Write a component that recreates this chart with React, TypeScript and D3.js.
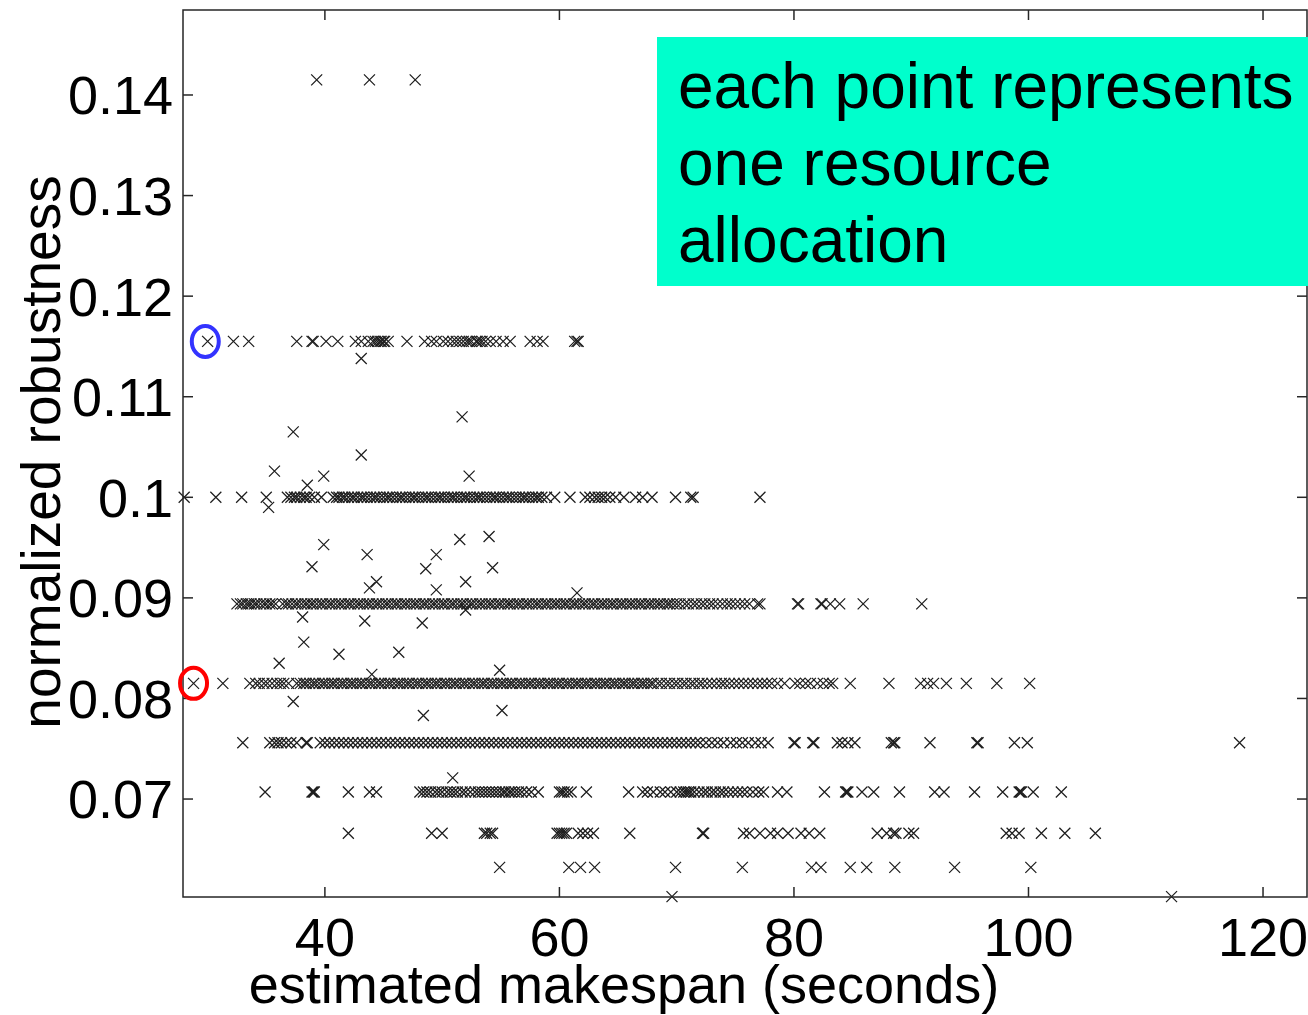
import React, { useEffect, useRef } from "react";
import * as d3 from "d3";

// axis ticks
const xTicks = [40, 60, 80, 100, 120];
const yTicks = [0.07, 0.08, 0.09, 0.1, 0.11, 0.12, 0.13, 0.14];
const yTickLabels = ["0.07", "0.08", "0.09", "0.1", "0.11", "0.12", "0.13", "0.14"];

const xTitle = "estimated makespan (seconds)";
const yTitle = "normalized robustness";
const noteLines = ["each point represents", "one resource", "allocation"];

// robustness levels (most allocations fall on one of these)
const levels = [0.1415, 0.1155, 0.1, 0.0894, 0.0815, 0.0756, 0.0707, 0.0666, 0.0632, 0.0603];

// makespans on each level
const row1415 = [39.3, 43.8, 47.7];
const row1155 = [30.0, 32.2, 33.5, 37.6, 38.9, 39.0, 40.1, 41.1, 42.6, 43.1, 43.7, 44.1, 44.3, 44.5, 44.7, 44.8,
  45.0, 45.1, 45.4, 47.0, 48.5, 49.1, 49.5, 50.1, 50.5, 50.9, 51.2, 51.5, 51.8, 52.1, 52.3, 52.5, 52.9, 53.0,
  53.2, 53.4, 53.7, 54.1, 54.6, 55.2, 55.8, 57.5, 58.1, 58.6, 61.3, 61.5, 61.6];
const row100 = [28.0, 30.7, 32.9, 35.0, 36.8, 37.1, 37.4, 37.6, 37.9, 38.2, 38.4, 38.7, 39.1, 39.7,
  40.7, 41.0, 41.2, 41.5, 41.7, 42.0, 42.3, 42.5, 42.8, 43.1, 43.3, 43.6, 43.9, 44.2, 44.4, 44.7, 45.0, 45.3,
  45.5, 45.8, 46.1, 46.4, 46.6, 46.9, 47.2, 47.5, 47.7, 48.0, 48.3, 48.6, 48.8, 49.1, 49.4, 49.7, 49.9, 50.2,
  50.5, 50.8, 51.0, 51.3, 51.6, 51.9, 52.1, 52.4, 52.7, 53.0, 53.2, 53.5, 53.8, 54.1, 54.4, 54.6, 54.9, 55.2,
  55.5, 55.7, 56.0, 56.3, 56.6, 56.9, 57.1, 57.4, 57.7, 58.0, 58.2, 58.5, 58.9, 59.6, 60.9, 62.2, 62.6, 63.0,
  63.3, 63.6, 63.9, 64.3, 64.8, 65.5, 66.5, 67.1, 67.9, 69.9, 71.2, 71.4, 77.1];
const row0894 = [32.5, 32.8, 33.0, 33.3, 33.5, 33.7, 34.0, 34.2, 34.5, 34.8, 35.0, 35.3, 35.5, 35.8,
  36.4, 36.7, 36.9, 37.2, 37.5, 37.7, 38.0, 38.3, 38.5, 38.8, 39.0, 39.3, 39.6, 39.8, 40.1, 40.4, 40.6, 40.9,
  41.2, 41.4, 41.7, 42.0, 42.2, 42.5, 42.8, 43.0, 43.3, 43.6, 43.8, 44.1, 44.4, 44.6, 44.9, 45.2, 45.4, 45.7,
  46.0, 46.2, 46.5, 46.8, 47.0, 47.3, 47.6, 47.8, 48.1, 48.4, 48.6, 48.9, 49.2, 49.4, 49.7, 50.0, 50.2, 50.5,
  50.8, 51.0, 51.3, 51.6, 51.8, 52.1, 52.4, 52.6, 52.9, 53.2, 53.4, 53.7, 54.0, 54.2, 54.5, 54.8, 55.0, 55.3,
  55.6, 55.8, 56.1, 56.4, 56.6, 56.9, 57.2, 57.4, 57.7, 58.0, 58.2, 58.5, 58.8, 59.0, 59.3, 59.6, 59.8, 60.1,
  60.4, 60.6, 60.9, 61.2, 61.4, 61.7, 62.0, 62.2, 62.5, 62.8, 63.0, 63.3, 63.6, 63.8, 64.1, 64.4, 64.6, 64.9,
  65.2, 65.4, 65.7, 66.0, 66.2, 66.5, 66.8, 67.0, 67.3, 67.6, 67.8, 68.1, 68.4, 68.6, 68.9, 69.2, 69.4, 69.7,
  70.0, 70.3, 70.7, 71.0, 71.4, 71.7, 72.1, 72.4, 72.8, 73.1, 73.5, 73.9, 74.3, 74.6, 75.0, 75.4, 75.8, 76.2,
  76.9, 77.1, 80.3, 80.4, 82.3, 82.4, 83.1, 83.9, 85.9, 90.9];
const row0815 = [28.8, 31.3, 33.6, 34.1, 34.4, 34.8, 35.1, 35.5, 35.9, 36.2, 36.5, 36.9, 37.6,
  37.9, 38.2, 38.4, 38.7, 39.0, 39.2, 39.5, 39.8, 40.0, 40.3, 40.6, 40.8, 41.1, 41.4, 41.6, 41.9, 42.2, 42.4,
  42.7, 43.0, 43.2, 43.5, 43.8, 44.0, 44.3, 44.6, 44.8, 45.1, 45.4, 45.6, 45.9, 46.2, 46.4, 46.7, 47.0, 47.2,
  47.5, 47.8, 48.0, 48.3, 48.6, 48.8, 49.1, 49.4, 49.6, 49.9, 50.2, 50.4, 50.7, 51.0, 51.2, 51.5, 51.8, 52.0,
  52.3, 52.6, 52.8, 53.1, 53.4, 53.6, 53.9, 54.2, 54.4, 54.7, 55.0, 55.2, 55.5, 55.8, 56.0, 56.3, 56.6, 56.8,
  57.1, 57.4, 57.6, 57.9, 58.2, 58.4, 58.7, 59.0, 59.2, 59.5, 59.8, 60.0, 60.3, 60.6, 60.8, 61.1, 61.4, 61.6,
  61.9, 62.2, 62.4, 62.7, 63.0, 63.2, 63.5, 63.8, 64.0, 64.3, 64.6, 64.8, 65.1, 65.4, 65.6, 65.9, 66.2, 66.4,
  66.7, 67.0, 67.2, 67.5, 67.8, 68.0, 68.4, 68.7, 69.1, 69.4, 69.8, 70.1, 70.5, 70.8, 71.2, 71.5, 71.9, 72.2,
  72.6, 73.0, 73.4, 73.8, 74.1, 74.5, 74.9, 75.3, 75.7, 76.1, 76.5, 76.9, 77.3, 77.7, 78.1, 78.6, 79.2,
  80.1, 80.5, 81.0, 81.4, 82.0, 82.5, 83.0, 83.3, 84.8, 88.1, 90.8, 91.4, 91.9, 93.0, 94.7, 97.3, 100.1];
const row0756 = [33.0, 35.3, 35.7, 36.0, 36.3, 36.7, 37.1, 37.6, 38.4, 38.5,
  39.6, 40.0, 40.4, 40.8, 41.2, 41.6, 42.0, 42.4, 42.8, 43.2, 43.6, 44.0, 44.4, 44.8, 45.2, 45.6, 46.0, 46.4,
  46.8, 47.2, 47.6, 48.0, 48.4, 48.8, 49.2, 49.6, 50.0, 50.4, 50.8, 51.2, 51.6, 52.0, 52.4, 52.8, 53.2, 53.6,
  54.0, 54.4, 54.8, 55.2, 55.6, 56.0, 56.4, 56.8, 57.2, 57.6, 58.0, 58.4, 58.8, 59.2, 59.6, 60.0, 60.4, 60.8,
  61.2, 61.6, 62.0, 62.4, 62.8, 63.2, 63.6, 64.0, 64.4, 64.8, 65.2, 65.6, 66.0, 66.4, 66.8, 67.2, 67.6, 68.0,
  68.4, 68.8, 69.2, 69.6, 70.0, 70.4, 70.8, 71.2, 71.6, 72.0, 72.5, 73.0, 73.5, 74.0, 74.6, 75.1, 75.6, 76.1,
  76.7, 77.2, 77.8, 80.0, 80.1, 81.6, 81.7, 83.7, 84.1, 84.6, 85.2, 88.3, 88.5, 88.6, 91.6, 95.6, 95.7, 98.8,
  99.9, 118.0];
const row0707 = [34.9, 38.9, 39.0, 39.1, 42.0, 43.8, 44.4, 48.1, 48.4, 48.7, 49.0, 49.4, 49.7, 50.0, 50.4,
  50.7, 51.0, 51.3, 51.7, 52.0, 52.4, 52.8, 53.1, 53.4, 53.7, 54.0, 54.3, 54.6, 54.9, 55.2, 55.4, 55.7, 55.9,
  56.2, 56.5, 56.8, 57.2, 57.6, 58.2, 60.0, 60.2, 60.4, 60.7, 61.0, 62.3, 65.9, 67.1, 67.5, 68.0, 68.6, 69.0,
  69.5, 70.0, 70.3, 70.6, 70.8, 71.0, 71.2, 71.5, 71.9, 72.3, 72.6, 73.0, 73.3, 73.7, 74.0, 74.4, 74.8, 75.2,
  75.6, 76.0, 76.5, 77.0, 77.4, 78.6, 79.4, 82.6, 84.4, 84.5, 84.6, 85.8, 86.8, 89.0, 92.0, 92.8, 95.4, 97.8,
  99.2, 99.3, 99.4, 100.4, 102.8];
const row0666 = [42.0, 49.1, 50.0, 53.6, 53.8, 54.1, 54.3, 59.8, 60.0, 60.2, 60.4, 60.6, 61.6, 62.0, 62.4,
  62.9, 66.0, 72.2, 72.3, 75.7, 76.2, 77.1, 78.0, 78.6, 79.5, 80.6, 81.3, 82.2, 87.1, 87.9, 88.5, 88.7, 89.8,
  90.2, 98.1, 98.6, 99.2, 101.1, 103.1, 105.7];
const row0632 = [54.9, 60.8, 61.8, 63.0, 69.9, 75.6, 81.5, 82.3, 84.8, 86.2, 88.6, 93.7, 100.2];
const row0603 = [69.6, 112.2];

const rows = [row1415, row1155, row100, row0894, row0815, row0756, row0707, row0666, row0632, row0603];

// allocations off the main levels: [makespan, robustness]
const scattered = [
  [43.1, 0.1138], [51.7, 0.108], [37.3, 0.1065], [43.1, 0.1042], [35.7, 0.1026], [39.9, 0.1021],
  [38.5, 0.1012], [52.3, 0.1021], [35.2, 0.099], [39.9, 0.0953], [43.6, 0.0943], [49.5, 0.0943],
  [51.5, 0.0958], [54.0, 0.0961], [38.9, 0.0931], [44.4, 0.0916], [43.8, 0.091], [48.6, 0.0929],
  [54.3, 0.093], [52.0, 0.0916], [49.5, 0.0908], [61.5, 0.0905], [38.1, 0.0881], [43.4, 0.0877],
  [48.3, 0.0875], [52.0, 0.0888], [38.2, 0.0856], [36.1, 0.0835], [41.2, 0.0844], [46.3, 0.0846],
  [44.0, 0.0824], [54.9, 0.0828], [37.3, 0.0797], [48.4, 0.0783], [55.1, 0.0788], [50.9, 0.0721],
];

// highlighted allocations
const blueMark = [29.8, 0.1155];
const redMark = [28.8, 0.0815];

const font = "'Liberation Sans', Arial, sans-serif";

const App = () => {
  const container = useRef<HTMLDivElement>(null);

  useEffect(() => {
    document.body.style.margin = "0";
    const el = container.current;
    if (!el) return;
    el.innerHTML = "";

    const width = 1308, height = 1015;
    const plot = { left: 183, right: 1307, top: 10, bottom: 897 };
    const tickLen = 10;

    const svg = d3.select(el)
      .append("svg")
      .attr("width", width)
      .attr("height", height)
      .style("display", "block")
      .style("font-family", font);

    const x = d3.scaleLinear().domain([27.9, 123.75]).range([plot.left, plot.right]);
    const y = d3.scaleLinear().domain([0.06026, 0.14845]).range([plot.bottom, plot.top]);

    const points: [number, number][] = [];
    rows.forEach((r, i) => r.forEach((v) => points.push([v, levels[i]])));
    scattered.forEach((p) => points.push([p[0], p[1]]));

    const s = 5.5;
    svg.append("g")
      .selectAll("path")
      .data(points)
      .enter()
      .append("path")
      .attr("transform", (d) => `translate(${x(d[0])},${y(d[1])})`)
      .attr("d", `M${-s},${-s}L${s},${s}M${-s},${s}L${s},${-s}`)
      .attr("stroke", "#1e1e1e")
      .attr("stroke-width", 1.25)
      .attr("fill", "none");

    // axes box and ticks
    const axis = svg.append("g").attr("stroke", "#262626").attr("stroke-width", 1.5);
    axis.append("rect")
      .attr("x", plot.left).attr("y", plot.top)
      .attr("width", plot.right - plot.left).attr("height", plot.bottom - plot.top)
      .attr("fill", "none");
    xTicks.forEach((t) => {
      axis.append("line").attr("x1", x(t)).attr("x2", x(t)).attr("y1", plot.bottom).attr("y2", plot.bottom - tickLen);
      axis.append("line").attr("x1", x(t)).attr("x2", x(t)).attr("y1", plot.top).attr("y2", plot.top + tickLen);
    });
    yTicks.forEach((t) => {
      axis.append("line").attr("y1", y(t)).attr("y2", y(t)).attr("x1", plot.left).attr("x2", plot.left + tickLen);
      axis.append("line").attr("y1", y(t)).attr("y2", y(t)).attr("x1", plot.right).attr("x2", plot.right - tickLen);
    });

    svg.append("g")
      .selectAll("text")
      .data(xTicks)
      .enter()
      .append("text")
      .attr("x", (d) => x(d))
      .attr("y", 956)
      .attr("text-anchor", "middle")
      .attr("font-size", 54)
      .text((d) => d);

    svg.append("g")
      .selectAll("text")
      .data(yTicks)
      .enter()
      .append("text")
      .attr("x", plot.left - 10)
      .attr("y", (d) => y(d))
      .attr("dy", "0.36em")
      .attr("text-anchor", "end")
      .attr("font-size", 54)
      .text((d, i) => yTickLabels[i]);

    svg.append("text")
      .attr("x", 624).attr("y", 1003)
      .attr("text-anchor", "middle")
      .attr("font-size", 54)
      .text(xTitle);

    svg.append("text")
      .attr("transform", "translate(60,452) rotate(-90)")
      .attr("text-anchor", "middle")
      .attr("font-size", 55)
      .text(yTitle);

    // highlighted points
    svg.append("ellipse")
      .attr("cx", x(blueMark[0])).attr("cy", y(blueMark[1]))
      .attr("rx", 13.5).attr("ry", 15.5)
      .attr("fill", "none").attr("stroke", "#3333ff").attr("stroke-width", 4);
    svg.append("ellipse")
      .attr("cx", x(redMark[0])).attr("cy", y(redMark[1]))
      .attr("rx", 13.5).attr("ry", 15.5)
      .attr("fill", "none").attr("stroke", "#ff0000").attr("stroke-width", 4);

    // note box
    svg.append("rect")
      .attr("x", 657).attr("y", 37)
      .attr("width", width - 657).attr("height", 249)
      .attr("fill", "#00ffcc");
    svg.append("g")
      .selectAll("text")
      .data(noteLines)
      .enter()
      .append("text")
      .attr("x", 678)
      .attr("y", (d, i) => 108 + i * 77)
      .attr("font-size", 64)
      .text((d) => d);
  }, []);

  return <div ref={container}></div>;
};

export default App;
